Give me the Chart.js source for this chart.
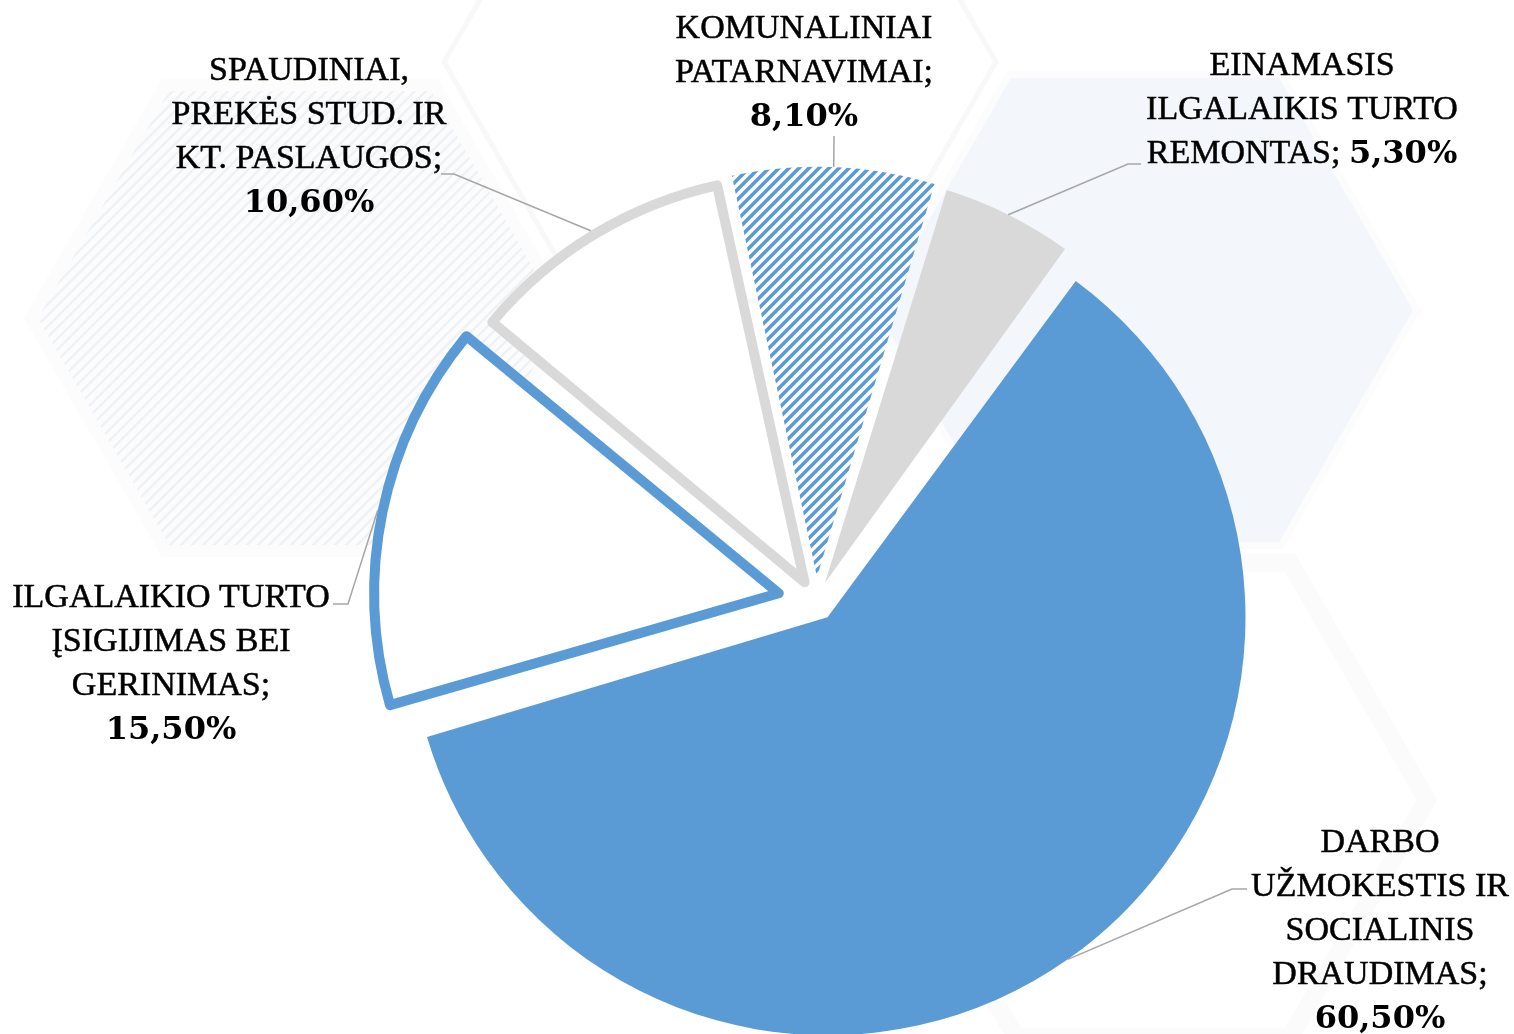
<!DOCTYPE html>
<html lang="lt">
<head>
<meta charset="utf-8">
<title>Išlaidų struktūra</title>
<script src="https://cdn.jsdelivr.net/npm/chart.js@4/dist/chart.umd.min.js"></script>
<style>
  html, body { margin: 0; padding: 0; background: #fff; }
  #wrap { width: 1514px; height: 1034px; position: relative; }
</style>
</head>
<body>
<div id="wrap"><canvas id="expenses-chart"></canvas></div>
<script>
const categories = [
  ["DARBO", "UŽMOKESTIS IR", "SOCIALINIS", "DRAUDIMAS;"],
  ["ILGALAIKIO TURTO", "ĮSIGIJIMAS BEI", "GERINIMAS;"],
  ["SPAUDINIAI,", "PREKĖS STUD. IR", "KT. PASLAUGOS;"],
  ["KOMUNALINIAI", "PATARNAVIMAI;"],
  ["EINAMASIS", "ILGALAIKIS TURTO", "REMONTAS;"],
];
const shares = [60.5, 15.5, 10.6, 8.1, 5.3];

const blue = "#5B9BD5";
const grey = "#D9D9D9";
const leaderColor = "#A6A6A6";
const textFont = "34px 'Liberation Serif', 'DejaVu Serif', serif";
const pctFont = "bold 32px 'DejaVu Serif', serif";

// where each label block sits and where its leader line bends
const labelLayout = [
  { x: 1380, y: 852, bend: [1232, 889], tail: 15 },
  { x: 171, y: 607, bend: [348, 604], tail: -15 },
  { x: 309, y: 80, bend: [454, 174], tail: -13 },
  { x: 804, y: 38, bend: [834, 136], tail: 0 },
  { x: 1302, y: 75, bend: [1128, 164], tail: 13, inlinePct: true },
];

const canvasElement = document.getElementById("expenses-chart");
const ctx = canvasElement.getContext("2d");

const stripes = (color) => {
  const tile = document.createElement("canvas");
  tile.width = 10;
  tile.height = 10;
  const t = tile.getContext("2d");
  t.fillStyle = "#fff";
  t.fillRect(0, 0, 10, 10);
  t.strokeStyle = color;
  t.lineWidth = 3.6;
  t.beginPath();
  [[-5, 5, 5, -5], [0, 10, 10, 0], [5, 15, 15, 5]].forEach(([a, b, c, d]) => {
    t.moveTo(a, b);
    t.lineTo(c, d);
  });
  t.stroke();
  return ctx.createPattern(tile, "repeat");
};

const pct = (v) => v.toFixed(2).replace(".", ",") + "%";

const hexPath = (c, cx, cy, s) => {
  c.beginPath();
  for (let k = 0; k < 6; k++) {
    const a = (Math.PI / 3) * k;
    const px = cx + s * Math.cos(a);
    const py = cy + s * Math.sin(a);
    k === 0 ? c.moveTo(px, py) : c.lineTo(px, py);
  }
  c.closePath();
};

// pale hexagons behind the pie
const backdrop = {
  id: "backdrop",
  beforeDraw(chart) {
    const c = chart.ctx;
    c.save();
    c.fillStyle = "#fff";
    c.fillRect(0, 0, chart.width, chart.height);

    // left hatched hexagon
    hexPath(c, 300, 318, 276);
    c.fillStyle = "#FCFCFD";
    c.fill();
    hexPath(c, 300, 318, 262);
    c.save();
    c.clip();
    c.strokeStyle = "#EEF2F7";
    c.lineWidth = 2.6;
    c.beginPath();
    for (let k = -600; k < 700; k += 11) {
      c.moveTo(k, 600);
      c.lineTo(k + 600, 0);
    }
    c.stroke();
    c.restore();

    // right tinted hexagon
    hexPath(c, 1145, 310, 276);
    c.fillStyle = "#FCFCFD";
    c.fill();
    hexPath(c, 1145, 310, 268);
    c.fillStyle = "#F3F7FB";
    c.fill();

    // faint outlines
    c.strokeStyle = "#F8F8F8";
    c.lineWidth = 5;
    hexPath(c, 720, 62, 276);
    c.stroke();
    c.strokeStyle = "#FBFBFB";
    c.lineWidth = 18;
    hexPath(c, 1153, 800, 274);
    c.stroke();
    c.restore();
  },
};

// category labels with leader lines
const leaderLabels = {
  id: "leaderLabels",
  afterDatasetsDraw(chart) {
    const c = chart.ctx;
    const arcs = chart.getDatasetMeta(0).data;
    c.save();
    arcs.forEach((arc, i) => {
      const { x, y, startAngle, endAngle, outerRadius } = arc.getProps(
        ["x", "y", "startAngle", "endAngle", "outerRadius"],
        true
      );
      const mid = (startAngle + endAngle) / 2;
      const shift = (arc.options.offset || 0) / 4;
      const grow = shift * (1 - Math.sin(Math.min(Math.PI, endAngle - startAngle)));
      const r = shift + outerRadius + grow + (arc.options.borderWidth || 0) / 2;
      const ax = x + Math.cos(mid) * r;
      const ay = y + Math.sin(mid) * r;
      const lay = labelLayout[i];

      c.strokeStyle = leaderColor;
      c.lineWidth = 1.5;
      c.beginPath();
      c.moveTo(ax, ay);
      c.lineTo(lay.bend[0], lay.bend[1]);
      if (lay.tail) c.lineTo(lay.bend[0] + lay.tail, lay.bend[1]);
      c.stroke();

      const lines = categories[i].map((t) => [{ text: t, font: textFont }]);
      if (lay.inlinePct) {
        lines[lines.length - 1].push({ text: " ", font: textFont }, { text: pct(shares[i]), font: pctFont });
      } else {
        lines.push([{ text: pct(shares[i]), font: pctFont }]);
      }

      c.fillStyle = "#000";
      c.strokeStyle = "#000";
      c.lineWidth = 0.5;
      c.textBaseline = "alphabetic";
      c.textAlign = "left";
      lines.forEach((parts, j) => {
        const widths = parts.map((p) => {
          c.font = p.font;
          return c.measureText(p.text).width;
        });
        let px = lay.x - widths.reduce((a, b) => a + b, 0) / 2;
        parts.forEach((p, k) => {
          c.font = p.font;
          c.fillText(p.text, px, lay.y + j * 44);
          if (p.font === textFont) c.strokeText(p.text, px, lay.y + j * 44);
          px += widths[k];
        });
      });
    });
    c.restore();
  },
};

const config = {
  type: "pie",
  data: {
    labels: categories.map((l) => l.join(" ")),
    datasets: [
      {
        data: shares,
        backgroundColor: [blue, "#fff", "#fff", stripes(blue), grey],
        borderColor: [blue, blue, grey, blue, grey],
        borderWidth: [0, 10, 10, 0, 0],
        borderJoinStyle: "round",
        offset: [80, 152, 88, 96, 80],
        clip: false,
      },
    ],
  },
  options: {
    responsive: true,
    maintainAspectRatio: false,
    animation: false,
    events: [],
    rotation: 36,
    radius: 398,
    layout: { padding: { left: 118, top: 168, right: 0, bottom: 0 } },
    plugins: {
      legend: { display: false },
      tooltip: { enabled: false },
    },
  },
  plugins: [backdrop, leaderLabels],
};

const expensesChart = new Chart(canvasElement, config);
</script>
</body>
</html>
